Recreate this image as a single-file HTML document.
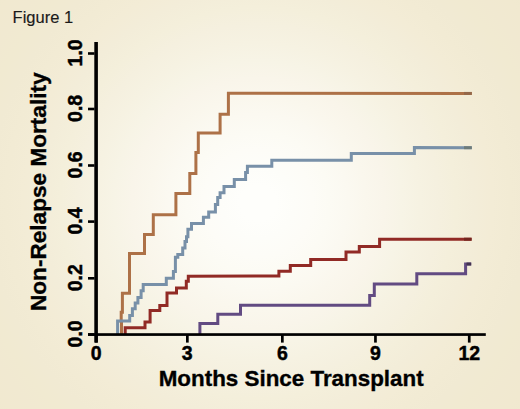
<!DOCTYPE html>
<html><head><meta charset="utf-8"><title>Figure 1</title>
<style>
html,body{margin:0;padding:0;width:520px;height:409px;overflow:hidden;background:#F0E8CE;}
svg{display:block;}
.tl{font-family:"Liberation Sans",sans-serif;font-weight:bold;font-size:19.5px;fill:#000;stroke:#000;stroke-width:0.45px;}
.at{font-family:"Liberation Sans",sans-serif;font-weight:bold;font-size:22.4px;fill:#000;stroke:#000;stroke-width:0.35px;}
.at2{font-family:"Liberation Sans",sans-serif;font-weight:bold;font-size:22.6px;fill:#000;stroke:#000;stroke-width:0.35px;}
.fig{font-family:"Liberation Sans",sans-serif;font-size:16.5px;fill:#1a1a1a;stroke:#1a1a1a;stroke-width:0.15px;}
</style></head><body>
<svg width="520" height="409" viewBox="0 0 520 409">
<defs>
<radialGradient id="bg" gradientUnits="userSpaceOnUse" cx="258.0" cy="203.0" r="414.0" gradientTransform="translate(258.0 203.0) scale(1 0.9889) translate(-258.0 -203.0)"><stop offset="0.0000" stop-color="#FEFEFB"/><stop offset="0.0435" stop-color="#FEFEFB"/><stop offset="0.0870" stop-color="#FDFDF9"/><stop offset="0.1304" stop-color="#FDFCF7"/><stop offset="0.1739" stop-color="#FCFBF4"/><stop offset="0.2174" stop-color="#FBF9F1"/><stop offset="0.2609" stop-color="#FAF7ED"/><stop offset="0.3043" stop-color="#F9F5EA"/><stop offset="0.3478" stop-color="#F7F4E6"/><stop offset="0.3913" stop-color="#F6F2E2"/><stop offset="0.4348" stop-color="#F5F0DF"/><stop offset="0.4783" stop-color="#F4EFDB"/><stop offset="0.5217" stop-color="#F3EDD9"/><stop offset="0.5652" stop-color="#F3ECD6"/><stop offset="0.6087" stop-color="#F2EBD4"/><stop offset="0.6522" stop-color="#F1EAD3"/><stop offset="0.6957" stop-color="#F1EAD1"/><stop offset="0.7391" stop-color="#F1E9D1"/><stop offset="0.7826" stop-color="#F1E9D0"/><stop offset="0.8261" stop-color="#F0E9CF"/><stop offset="0.8696" stop-color="#F0E8CF"/><stop offset="0.9130" stop-color="#F0E8CF"/><stop offset="0.9565" stop-color="#F0E8CE"/><stop offset="1.0000" stop-color="#F0E8CE"/></radialGradient>
</defs>
<rect x="0" y="0" width="520" height="409" fill="url(#bg)"/>
<path d="M121.5 334.5 L121.5 321.6 L121.2 321.6 L121.2 312.2 L122.4 312.2 L122.4 293.3 L129.5 293.3 L129.5 253.6 L144.5 253.6 L144.5 234.6 L153.3 234.6 L153.3 214.7 L175.9 214.7 L175.9 193.6 L189.8 193.6 L189.8 173.5 L195.9 173.5 L195.9 152.6 L198.3 152.6 L198.3 133.1 L220.1 133.1 L220.1 114.2 L228.4 114.2 L228.4 93.2 L471.8 93.4" fill="none" stroke="#AD7147" stroke-width="3.0" stroke-linejoin="miter" stroke-linecap="butt"/>
<path d="M117.6 334.5 L117.6 321.1 L129.7 321.1 L129.7 315.5 L132.4 315.5 L132.4 308.7 L135.2 308.7 L135.2 303.0 L137.9 303.0 L137.9 297.5 L141.1 297.5 L141.1 290.8 L143.2 290.8 L143.2 284.5 L166.3 284.5 L166.3 278.3 L173.4 278.3 L173.4 271.4 L175.4 271.4 L175.4 257.3 L177.8 257.3 L177.8 254.5 L182.7 254.5 L182.7 248.0 L185.0 248.0 L185.0 241.6 L186.5 241.6 L186.5 236.7 L187.9 236.7 L187.9 229.3 L191.5 229.3 L191.5 223.6 L203.4 223.6 L203.4 217.2 L208.7 217.2 L208.7 212.0 L215.4 212.0 L215.4 204.4 L217.7 204.4 L217.7 197.5 L220.1 197.5 L220.1 192.7 L224.0 192.7 L224.0 186.6 L234.3 186.6 L234.3 179.5 L245.6 179.5 L245.6 172.4 L247.4 172.4 L247.4 166.3 L271.8 166.3 L271.8 160.3 L351.3 160.3 L351.3 153.5 L414.4 153.5 L414.4 147.5 L471.8 147.7" fill="none" stroke="#7890A8" stroke-width="3.0" stroke-linejoin="miter" stroke-linecap="butt"/>
<path d="M125.2 334.5 L125.2 327.7 L145.0 327.7 L145.0 322.1 L150.1 322.1 L150.1 310.6 L159.8 310.6 L159.8 305.5 L167.0 305.5 L167.0 293.1 L176.5 293.1 L176.5 287.9 L186.3 287.9 L186.3 281.3 L188.3 281.3 L188.3 276.3 L278.9 276.0 L278.9 271.3 L290.3 271.3 L290.3 265.4 L310.7 265.4 L310.7 259.4 L346.0 259.4 L346.0 252.0 L359.3 252.0 L359.3 246.5 L379.6 246.5 L379.6 239.2 L471.6 239.2" fill="none" stroke="#912A25" stroke-width="3.0" stroke-linejoin="miter" stroke-linecap="butt"/>
<path d="M199.9 334.5 L199.9 323.4 L217.8 323.4 L217.8 314.3 L240.5 314.3 L240.5 305.3 L369.7 305.3 L369.7 295.5 L374.3 295.5 L374.3 284.0 L416.8 284.0 L416.8 273.8 L465.6 273.8 L465.6 264.0 L471.2 264.0" fill="none" stroke="#624B82" stroke-width="3.0" stroke-linejoin="miter" stroke-linecap="butt"/>
<path d="M464.0 93.4 L471.8 93.4" stroke="#94684A" stroke-width="2.95" fill="none"/>
<path d="M464.0 147.7 L471.8 147.7" stroke="#6E7C7A" stroke-width="2.95" fill="none"/>
<path d="M464.0 239.2 L471.6 239.2" stroke="#74261F" stroke-width="2.95" fill="none"/>
<path d="M466.5 264.0 L471.2 264.0" stroke="#43334F" stroke-width="2.95" fill="none"/>
<rect x="94.3" y="42" width="3.6" height="300.6" fill="#000"/>
<rect x="88" y="333.2" width="397.8" height="2.7" fill="#000"/>
<rect x="88" y="52.2" width="6.5" height="2.6" fill="#000"/>
<text transform="translate(82.3 52.9) rotate(-90)" text-anchor="middle" class="tl">1.0</text>
<rect x="88" y="107.7" width="6.5" height="2.6" fill="#000"/>
<text transform="translate(82.3 108.4) rotate(-90)" text-anchor="middle" class="tl">0.8</text>
<rect x="88" y="164.2" width="6.5" height="2.6" fill="#000"/>
<text transform="translate(82.3 164.9) rotate(-90)" text-anchor="middle" class="tl">0.6</text>
<rect x="88" y="220.3" width="6.5" height="2.6" fill="#000"/>
<text transform="translate(82.3 221.0) rotate(-90)" text-anchor="middle" class="tl">0.4</text>
<rect x="88" y="277.0" width="6.5" height="2.6" fill="#000"/>
<text transform="translate(82.3 277.7) rotate(-90)" text-anchor="middle" class="tl">0.2</text>
<rect x="88" y="333.2" width="6.5" height="2.6" fill="#000"/>
<text transform="translate(82.3 333.9) rotate(-90)" text-anchor="middle" class="tl">0.0</text>
<rect x="94.9" y="335" width="2.7" height="7.6" fill="#000"/>
<text x="96.2" y="360" text-anchor="middle" class="tl">0</text>
<rect x="186.0" y="335" width="2.7" height="7.6" fill="#000"/>
<text x="187.3" y="360" text-anchor="middle" class="tl">3</text>
<rect x="281.0" y="335" width="2.7" height="7.6" fill="#000"/>
<text x="282.4" y="360" text-anchor="middle" class="tl">6</text>
<rect x="374.1" y="335" width="2.7" height="7.6" fill="#000"/>
<text x="375.5" y="360" text-anchor="middle" class="tl">9</text>
<rect x="467.9" y="335" width="2.7" height="7.6" fill="#000"/>
<text x="469.3" y="360" text-anchor="middle" class="tl">12</text>
<text x="158.7" y="386" class="at">Months Since Transplant</text>
<text transform="translate(45.9 311.0) rotate(-90)" class="at2">Non-Relapse Mortality</text>
<text x="12.6" y="23" class="fig">Figure 1</text>
</svg>
</body></html>
